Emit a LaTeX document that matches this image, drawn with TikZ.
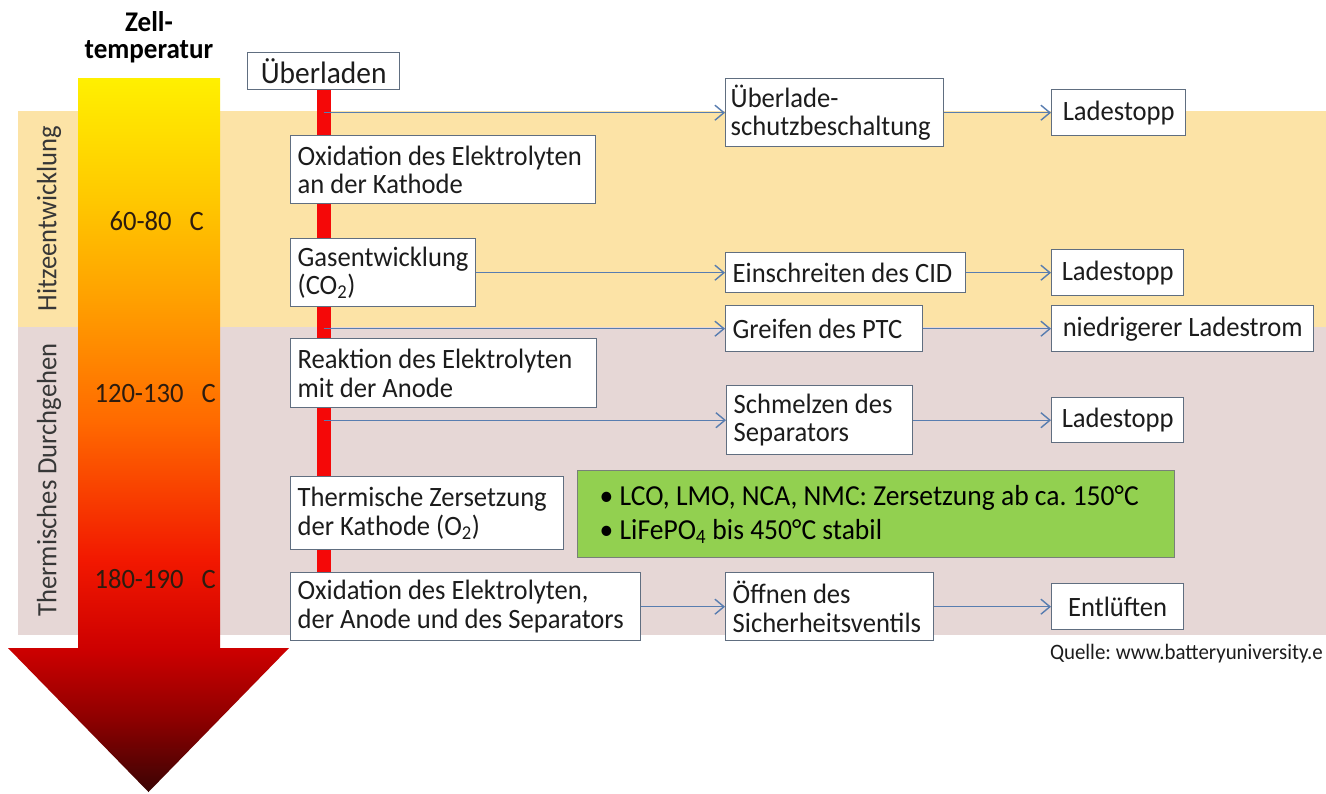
\documentclass[tikz,border=0pt]{standalone}
\usepackage{fontspec}
\setmainfont{Carlito}[FakeStretch=0.95]
\usetikzlibrary{arrows.meta}
\frenchspacing
\definecolor{bandY}{RGB}{252,227,166}
\definecolor{bandP}{RGB}{230,215,214}
\definecolor{boxc}{RGB}{96,110,128}
\definecolor{linec}{RGB}{88,125,176}
\definecolor{txt}{RGB}{28,28,28}
\definecolor{labc}{RGB}{55,55,55}
\definecolor{tempc}{RGB}{45,28,15}
\definecolor{greenf}{RGB}{146,208,80}
\definecolor{greend}{RGB}{120,128,120}
\definecolor{barred}{RGB}{245,8,8}
\definecolor{g1}{RGB}{255,240,0}
\definecolor{g2}{RGB}{255,200,0}
\definecolor{g3}{RGB}{255,160,0}
\definecolor{g4}{RGB}{255,106,0}
\definecolor{g5}{RGB}{242,24,0}
\definecolor{g6}{RGB}{205,0,0}
\definecolor{g7}{RGB}{140,0,0}
\definecolor{g8}{RGB}{58,4,4}
\pgfdeclareverticalshading{tempgrad}{100bp}{color(0bp)=(g8); color(25bp)=(g8); color(30bp)=(g7); color(35bp)=(g6); color(41.25bp)=(g5); color(51bp)=(g4); color(59.5bp)=(g3); color(66.5bp)=(g2); color(75bp)=(g1); color(100bp)=(g1)}
\pgfdeclarelayer{bg}
\pgfsetlayers{bg,main}
\begin{document}
\begin{tikzpicture}[x=1pt,y=-1pt,
  box/.style={draw=boxc, line width=1.4pt, fill=white, text=txt, inner xsep=7pt, inner ysep=0pt,
    align=flush left, font=\fontsize{28}{28.5}\selectfont, anchor=north west},
  cbox/.style={box, align=flush center},
  conn/.style={draw=linec, line width=1.4pt, -{Straight Barb[length=9pt,width=15pt,line width=1.4pt]}},
  vlab/.style={rotate=90, text=labc, font=\fontsize{28}{29}\selectfont},
  tlab/.style={anchor=base west, text=tempc, font=\fontsize{28}{29}\selectfont},
  ttl/.style={align=center, inner sep=0pt, text=black, font=\bfseries\fontsize{28.5}{27.5}\selectfont}]
\useasboundingbox (0,0) rectangle (1326,793);

% title
\node[ttl] (t1) at (149,37) {Zell-\\temperatur};

% left column
\node[cbox, font=\fontsize{31}{31}\selectfont, minimum width=152pt, text width=138pt, minimum height=37pt] (b1) at (247,52) {Überladen};
\node[box, minimum width=305pt, text width=291pt, minimum height=68pt] (b2) at (290,135) {Oxidation des Elektrolyten\\an der Kathode};
\node[box, minimum width=185pt, text width=171pt, minimum height=68pt] (b3) at (290,238) {Gasentwicklung\\(CO\textsubscript{2})};
\node[box, minimum width=306pt, text width=292pt, minimum height=69pt] (b4) at (290,338) {Reaktion des Elektrolyten\\mit der Anode};
\node[box, minimum width=273pt, text width=259pt, minimum height=73pt] (b5) at (290,476) {Thermische Zersetzung\\der Kathode (O\textsubscript{2})};
\node[box, minimum width=350pt, text width=336pt, minimum height=68pt] (b6) at (290,572) {Oxidation des Elektrolyten,\\der Anode und des Separators};

% middle column
\node[box, inner xsep=5pt, minimum width=218pt, text width=208pt, minimum height=68pt] (m1) at (725,78) {Überlade-\\schutzbeschaltung};
\node[box, minimum width=240pt, text width=226pt, minimum height=40pt] (m2) at (725,252) {Einschreiten des CID};
\node[box, minimum width=197pt, text width=183pt, minimum height=46pt] (m3) at (725,305) {Greifen des PTC};
\node[box, minimum width=186pt, text width=172pt, minimum height=69pt] (m4) at (726,385) {Schmelzen des\\Separators};
\node[box, minimum width=208pt, text width=194pt, minimum height=68pt] (m5) at (725,572) {Öffnen des\\Sicherheitsventils};

% right column
\node[cbox, minimum width=134pt, text width=120pt, minimum height=46pt] (r1) at (1051,89) {Ladestopp};
\node[cbox, minimum width=132pt, text width=118pt, minimum height=46pt] (r2) at (1051,249) {Ladestopp};
\node[cbox, minimum width=262pt, text width=248pt, minimum height=46pt] (r3) at (1051,305) {niedrigerer Ladestrom};
\node[cbox, minimum width=132pt, text width=118pt, minimum height=45pt] (r4) at (1051,397) {Ladestopp};
\node[cbox, minimum width=132pt, text width=118pt, minimum height=46pt] (r5) at (1051,583) {Entlüften};

% green note
\node[box, draw=greend, fill=greenf, text=black, inner xsep=22pt, minimum width=597pt, text width=553pt, minimum height=87pt,
  font=\fontsize{29}{34}\selectfont] (g) at (577,470)
  {• LCO, LMO, NCA, NMC: Zersetzung ab ca. 150°C\\• LiFePO\textsubscript{4} bis 450°C stabil};

% source
\node[anchor=base east, text=txt, font=\fontsize{22}{23}\selectfont, inner sep=0pt] (q) at (1323,659) {Quelle: www.batteryuniversity.e};

% background layer
\begin{pgfonlayer}{bg}
  \fill[white] (0,0) rectangle (1326,793);
  \fill[bandY] (18,111) rectangle (1326,327);
  \fill[bandP] (18,327) rectangle (1326,635);
  \shade[shading=tempgrad] (78,78) -- (220,78) -- (220,648) -- (289,648) -- (148.5,792) -- (8,648) -- (78,648) -- cycle;
  \draw[barred, line width=14pt] (b1.south) -- (b1.south |- b6.north);
\end{pgfonlayer}

% band and temperature labels
\node[vlab] (h1) at (49,218.5) {Hitzeentwicklung};
\node[vlab] (h2) at (49,480) {Thermisches Durchgehen};
\node[tlab] (c1) at (106,230) {60-80\ \ \ C};
\node[tlab] (c2) at (91,402) {120-130\ \ \ C};
\node[tlab] (c3) at (91,588) {180-190\ \ \ C};

% connectors
\draw[conn] (b1.south |- m1.west) -- (m1.west);
\draw[conn] (m1.east) -- (m1.east -| r1.west);
\draw[conn] (b3.east) -- (b3.east -| m2.west);
\draw[conn] (m2.east) -- (m2.east -| r2.west);
\draw[conn] (b1.south |- m3.west) -- (m3.west);
\draw[conn] (m3.east) -- (m3.east -| r3.west);
\draw[conn] (b1.south |- m4.west) -- (m4.west);
\draw[conn] (m4.east) -- (m4.east -| r4.west);
\draw[conn] (b6.east) -- (b6.east -| m5.west);
\draw[conn] (m5.east) -- (m5.east -| r5.west);
\end{tikzpicture}
\end{document}
